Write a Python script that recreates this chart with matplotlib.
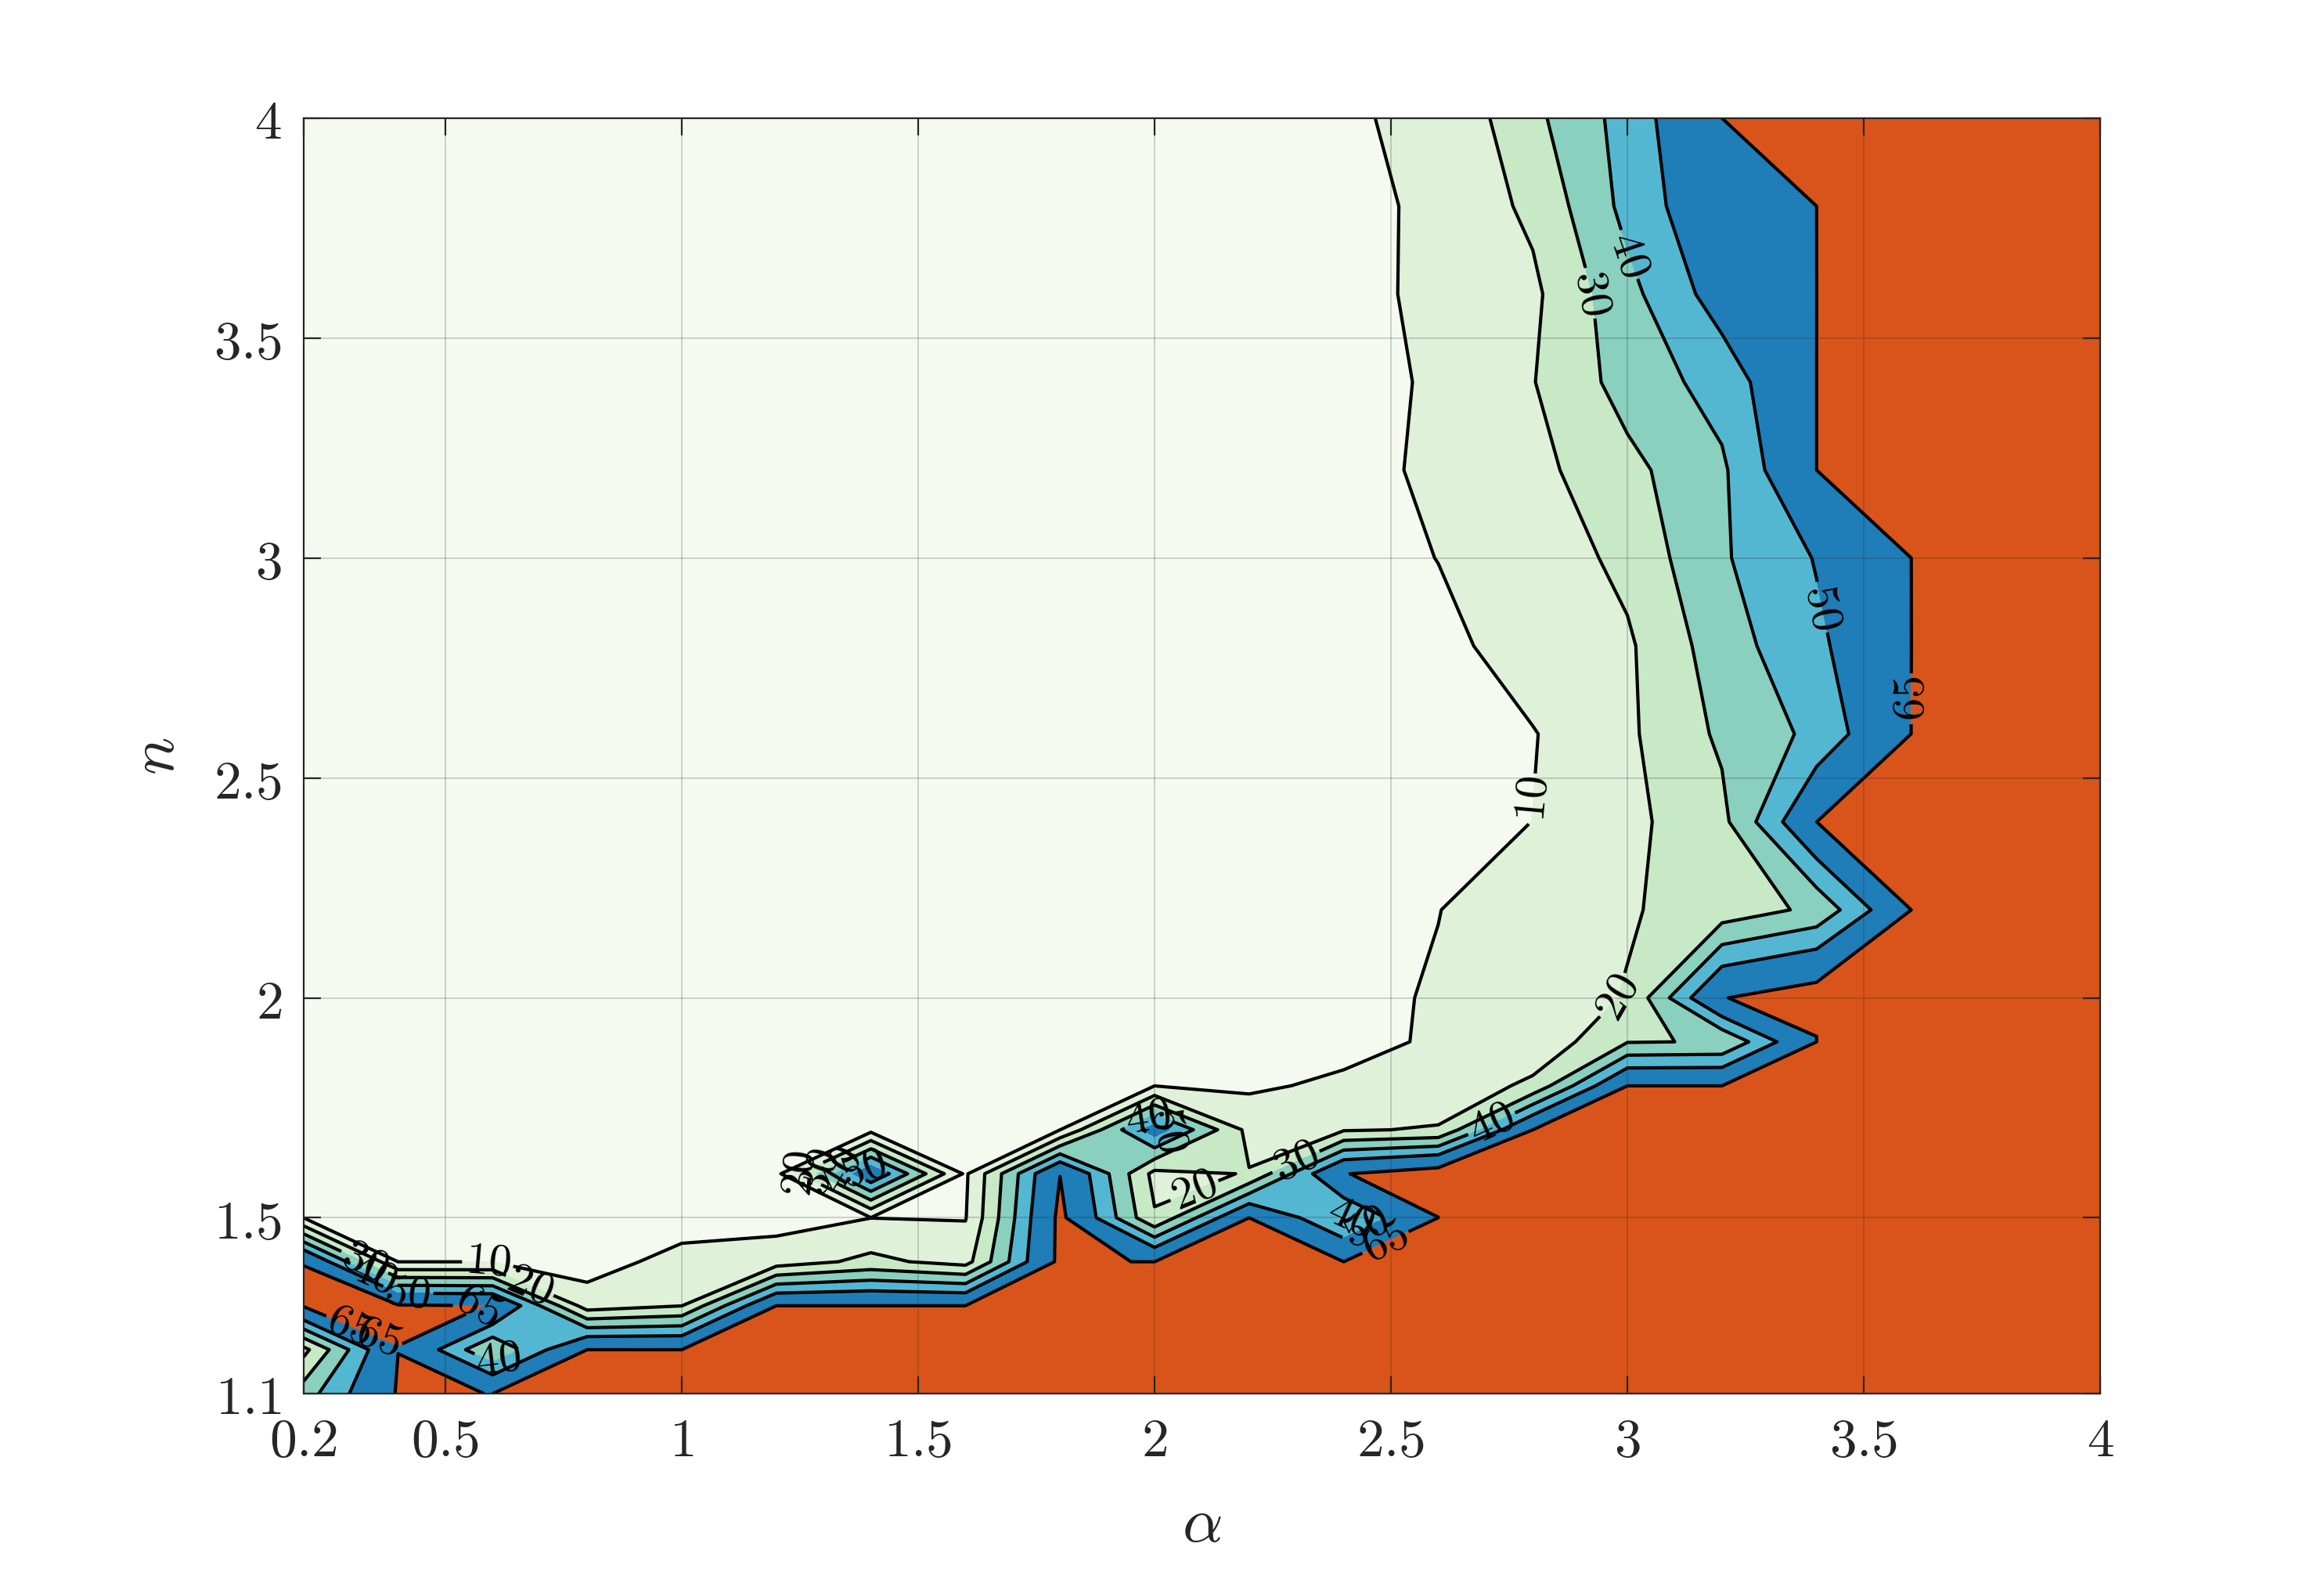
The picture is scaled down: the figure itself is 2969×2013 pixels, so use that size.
import numpy as np
import matplotlib
matplotlib.use("Agg")
import matplotlib.pyplot as plt

plt.rcParams["mathtext.fontset"] = "cm"
plt.rcParams["font.family"] = ["DejaVu Serif"]

# grid of the parameter sweep
alpha = [0.2, 0.4, 0.6, 0.8, 1.0, 1.2, 1.4, 1.6, 1.8, 2.0,
         2.2, 2.4, 2.6, 2.8, 3.0, 3.2, 3.4, 3.6, 3.8, 4.0]
n_vals = [1.1, 1.2, 1.3, 1.4, 1.5, 1.6, 1.7, 1.8, 1.9, 2.0,
          2.2, 2.4, 2.6, 2.8, 3.0, 3.2, 3.4, 3.6, 3.8, 4.0]

H = 1000  # failed runs (shown in orange)

# one row per n value, from n = 1.1 up to n = 4
z_rows = [
    [35, 66, 64.9, H, H, H, H, H, H, H, H, H, H, H, H, H, H, H, H, H],
    [17, 64.9, 30, 64.9, 64, H, H, H, H, H, H, H, H, H, H, H, H, H, H, H],
    [66, 66, 64.9, 15, 19.8, 64, 64, 64, H, H, H, H, H, H, H, H, H, H, H, H],
    [64.9, 9.9, 9.9, 5.6, 13.6, 15, 22.6, 16.2, 68, 64, H, 64, H, H, H, H, H, H, H, H],
    [9.9, 5, 7, 6, 5, 6.4, 9.9, 9.5, 68, 21, 64, 38, 64.9, H, H, H, H, H, H, H],
    [5, 5, 5, 5, 5, 7.5, 60, 8.5, 64.8, 17, 20.5, 64.5, 72, H, H, H, H, H, H, H],
    [5, 5, 5, 5, 5, 5, 7, 6, 9.9, 56, 17, 19, 21, 64, H, H, H, H, H, H],
    [5, 5, 5, 5, 5, 5, 5, 5, 9.0, 9.9, 8.4, 12, 12, 22.4, 64, 64, H, H, H, H],
    [5, 5, 5, 5, 5, 5, 5, 5, 5, 5, 5, 6.5, 11.5, 12.2, 29.5, 30.5, 64, H, H, H],
    [5, 5, 5, 5, 5, 5, 5, 5, 5, 5, 5, 7, 11, 15.5, 20.5, 64.5, 72, H, H, H],
    [5, 5, 5, 5, 5, 5, 5, 5, 5, 5, 5, 5, 9.8, 16, 19.2, 24, 32.3, 63, H, H],
    [5, 5, 5, 5, 5, 5, 5, 5, 5, 5, 5, 5, 5, 10.1, 17.4, 27.3, 62.7, H, H, H],
    [5, 5, 5, 5, 5, 5, 5, 5, 5, 5, 5, 5, 5, 9.5, 18.3, 31.8, 42.5, 64.5, H, H],
    [5, 5, 5, 5, 5, 5, 5, 5, 5, 5, 5, 5, 7, 15, 18.5, 35.3, 48, 62, H, H],
    [5, 5, 5, 5, 5, 5, 5, 5, 5, 5, 5, 5, 10.2, 13.5, 22.8, 38.8, 50.6, 63, H, H],
    [5, 5, 5, 5, 5, 5, 5, 5, 5, 5, 5, 6.5, 12, 17.1, 27.2, 38.4, 64, H, H, H],
    [5, 5, 5, 5, 5, 5, 5, 5, 5, 5, 5, 6, 11.5, 19.6, 34, 44, 64, H, H, H],
    [5, 5, 5, 5, 5, 5, 5, 5, 5, 5, 5, 6, 13, 18, 37, 55, 63, H, H, H],
    [5, 5, 5, 5, 5, 5, 5, 5, 5, 5, 5, 6.5, 12.5, 22, 43, 60, 64, H, H, H],
    [5, 5, 5, 5, 5, 5, 5, 5, 5, 5, 5, 9.5, 11, 27.5, 44, 64, H, H, H, H],
]

line_levels = [10, 20, 30, 40, 50, 65]
fill_levels = [0, 10, 20, 30, 40, 50, 65, 2000]
band_colors = ["#f4faf0", "#dff1d9", "#c8e9c5", "#89d0be",
               "#54b7d2", "#1f7db8", "#d9541a"]

x_ticks = [0.2, 0.5, 1, 1.5, 2, 2.5, 3, 3.5, 4]
y_ticks = [1.1, 1.5, 2, 2.5, 3, 3.5, 4]

label_spots = [
    (2.82, 2.45), (2.99, 1.99), (2.95, 3.61), (3.03, 3.70), (3.42, 2.89),
    (3.61, 2.68), (2.71, 1.72), (2.30, 1.625), (2.085, 1.56),
    (1.99, 1.72), (2.03, 1.70),
    (1.25, 1.60), (1.29, 1.61), (1.33, 1.62), (1.38, 1.62),
    (2.42, 1.49), (2.45, 1.47), (2.49, 1.44),
    (0.59, 1.40), (0.68, 1.35), (0.42, 1.335), (0.57, 1.30),
    (0.33, 1.40), (0.35, 1.375), (0.30, 1.26), (0.36, 1.23),
    (0.61, 1.18),
]

A, N = np.meshgrid(alpha, n_vals)
Z = np.array(z_rows, dtype=float)

fig = plt.figure(figsize=(14.845, 10.065), dpi=200)
ax = fig.add_axes([0.1306, 0.1157, 0.7731, 0.8093])

ax.contourf(A, N, Z, levels=fill_levels, colors=band_colors)
cs = ax.contour(A, N, Z, levels=line_levels, colors="k", linewidths=1.5)
ax.clabel(cs, fmt=lambda v: "$%d$" % v, fontsize=21, inline=True,
          inline_spacing=4, manual=label_spots)

ax.set_xlim(0.2, 4)
ax.set_ylim(1.1, 4)
ax.set_xticks(x_ticks)
ax.set_xticklabels(["$%g$" % t for t in x_ticks])
ax.set_yticks(y_ticks)
ax.set_yticklabels(["$%g$" % t for t in y_ticks])
ax.tick_params(direction="in", length=8, width=0.8, labelsize=25,
               top=True, right=True, colors="0.15", pad=10)
for s in ax.spines.values():
    s.set_color("0.15")
    s.set_linewidth(0.8)
ax.grid(True, color="0.15", alpha=0.2, linewidth=0.7)
ax.set_axisbelow(False)

ax.set_xlabel(r"$\alpha$", fontsize=29, color="0.15", labelpad=12)
ax.set_ylabel(r"$n$", fontsize=29, color="0.15", labelpad=12)

fig.savefig("out.png", dpi=200, facecolor="white")
